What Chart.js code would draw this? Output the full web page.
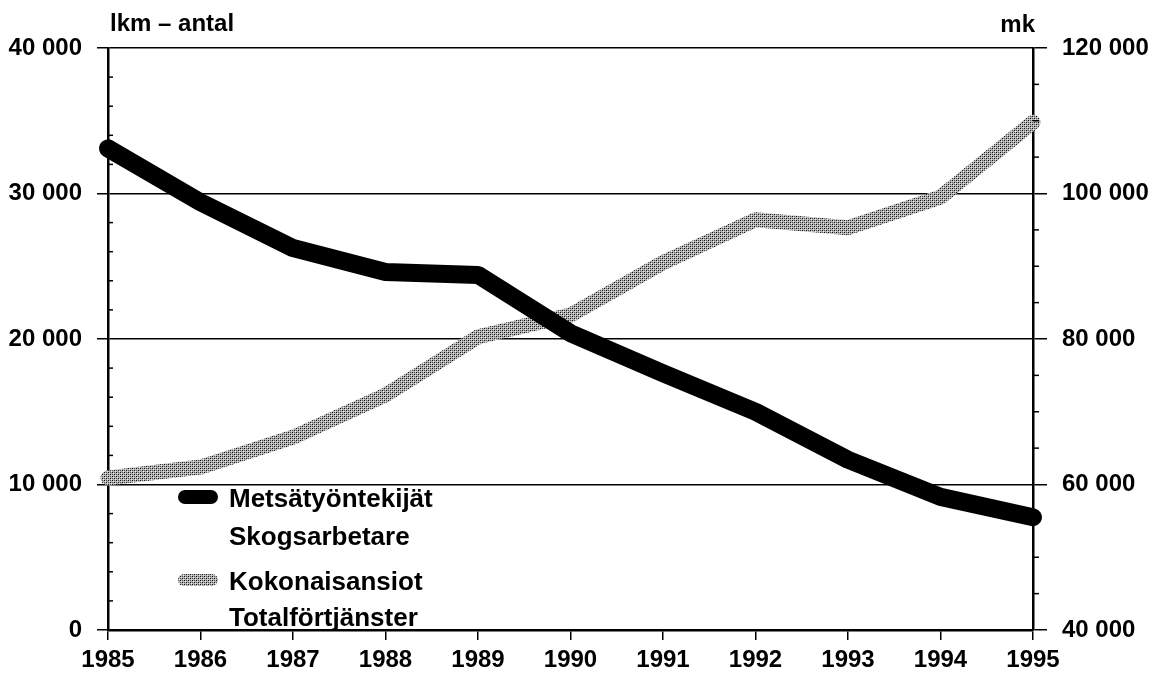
<!DOCTYPE html>
<html>
<head>
<meta charset="utf-8">
<script src="https://cdn.jsdelivr.net/npm/chart.js@4"></script>
<style>
  html, body { margin: 0; padding: 0; background: #fff; }
  #wrap { width: 1152px; height: 685px; }
</style>
</head>
<body>
<div id="wrap"><canvas id="chart" width="1152" height="685"></canvas></div>
<script>
  const years = ['1985', '1986', '1987', '1988', '1989', '1990', '1991', '1992', '1993', '1994', '1995'];
  // lkm – antal (vasen akseli)
  const workers = [33100, 29400, 26250, 24600, 24400, 20400, 17650, 15000, 11700, 9150, 7750];
  // mk (oikea akseli)
  const earnings = [60900, 62400, 66500, 72300, 80300, 83300, 90500, 96400, 95300, 99500, 109800];
  const legendLines = [['Metsätyöntekijät', 'Skogsarbetare'], ['Kokonaisansiot', 'Totalförtjänster']];

  const TICK_FONT = { family: '"Liberation Sans", Arial, sans-serif', size: 24, weight: 'bold' };

  // harmaa pisterasteri kokonaisansioille
  function makeStipple() {
    const c = document.createElement('canvas');
    c.width = 4; c.height = 4;
    const g = c.getContext('2d');
    g.fillStyle = '#b4b4b4';
    g.fillRect(0, 0, 4, 4);
    g.fillStyle = '#111';
    g.fillRect(0, 0, 1, 1); g.fillRect(2, 2, 1, 1);
    g.fillStyle = '#555';
    g.fillRect(2, 0, 1, 1); g.fillRect(0, 2, 1, 1);
    g.fillStyle = '#e8e8e8';
    g.fillRect(1, 1, 1, 1); g.fillRect(3, 3, 1, 1);
    return document.getElementById('chart').getContext('2d').createPattern(c, 'repeat');
  }
  const stipple = makeStipple();

  const extras = {
    id: 'extras',
    afterDraw(chart) {
      const ctx = chart.ctx;
      const area = chart.chartArea;
      const y = chart.scales.y, y2 = chart.scales.y2;
      ctx.save();
      // pienet välimerkit
      ctx.strokeStyle = '#000';
      ctx.lineWidth = 1.5;
      for (let v = 2000; v < 40000; v += 2000) {
        if (v % 10000 === 0) continue;
        const py = y.getPixelForValue(v);
        ctx.beginPath(); ctx.moveTo(area.left, py); ctx.lineTo(area.left + 5, py); ctx.stroke();
      }
      for (let v = 45000; v < 120000; v += 5000) {
        if (v % 20000 === 0) continue;
        const py = y2.getPixelForValue(v);
        ctx.beginPath(); ctx.moveTo(area.right, py); ctx.lineTo(area.right + 6, py); ctx.stroke();
      }
      // akselien otsikot
      ctx.fillStyle = '#000';
      ctx.font = 'bold 24px "Liberation Sans", Arial, sans-serif';
      ctx.textBaseline = 'middle';
      ctx.textAlign = 'left';
      ctx.fillText('lkm – antal', area.left + 2, 24);
      ctx.textAlign = 'right';
      ctx.fillText('mk', area.right + 2, 25);
      // selite
      const lx = area.left + 70;
      const rows = [497, 580];
      ctx.lineCap = 'round';
      ctx.strokeStyle = '#000';
      ctx.lineWidth = 14;
      ctx.beginPath(); ctx.moveTo(lx + 7, rows[0]); ctx.lineTo(lx + 33, rows[0]); ctx.stroke();
      ctx.strokeStyle = stipple;
      ctx.lineWidth = 12;
      ctx.beginPath(); ctx.moveTo(lx + 6, rows[1]); ctx.lineTo(lx + 34, rows[1]); ctx.stroke();
      ctx.fillStyle = '#000';
      ctx.font = 'bold 26px "Liberation Sans", Arial, sans-serif';
      ctx.textAlign = 'left';
      ctx.textBaseline = 'alphabetic';
      ctx.fillText(legendLines[0][0], lx + 51, 507);
      ctx.fillText(legendLines[0][1], lx + 51, 545);
      ctx.fillText(legendLines[1][0], lx + 51, 590);
      ctx.fillText(legendLines[1][1], lx + 51, 626);
      ctx.restore();
    }
  };

  const chart = new Chart(document.getElementById('chart'), {
    type: 'line',
    data: {
      labels: years,
      datasets: [
        {
          label: 'Kokonaisansiot / Totalförtjänster',
          data: earnings,
          yAxisID: 'y2',
          borderColor: stipple,
          borderWidth: 15,
          borderJoinStyle: 'round',
          borderCapStyle: 'round',
          pointRadius: 0,
          tension: 0,
          clip: false,
          order: 2
        },
        {
          label: 'Metsätyöntekijät / Skogsarbetare',
          data: workers,
          yAxisID: 'y',
          borderColor: '#000',
          borderWidth: 18,
          borderJoinStyle: 'round',
          borderCapStyle: 'round',
          pointRadius: 0,
          tension: 0,
          clip: false,
          order: 1
        }
      ]
    },
    options: {
      responsive: false,
      animation: false,
      layout: { padding: { top: 48, left: 0, right: 0, bottom: 0 } },
      plugins: {
        legend: { display: false },
        tooltip: { enabled: false }
      },
      scales: {
        x: {
          type: 'category',
          offset: false,
          grid: { drawOnChartArea: false, color: '#000', lineWidth: 1.5, tickLength: 10 },
          border: { color: '#000', width: 2.5 },
          ticks: { color: '#000', font: TICK_FONT, padding: 6, maxRotation: 0, autoSkip: false },
          afterFit(s) { s.height = 55; }
        },
        y: {
          position: 'left',
          min: 0,
          max: 40000,
          grid: { color: '#000', lineWidth: 1.5, tickLength: 11 },
          border: { color: '#000', width: 2.5 },
          ticks: {
            stepSize: 10000,
            color: '#000',
            font: TICK_FONT,
            padding: 15,
            callback: v => v.toLocaleString('fi-FI').replace(/\s/g, ' ')
          },
          afterFit(s) { s.width = 108; }
        },
        y2: {
          position: 'right',
          min: 40000,
          max: 120000,
          grid: { drawOnChartArea: false, color: '#000', lineWidth: 1.5, tickLength: 14 },
          border: { color: '#000', width: 2.5 },
          ticks: {
            stepSize: 20000,
            color: '#000',
            font: TICK_FONT,
            padding: 15,
            callback: v => v.toLocaleString('fi-FI').replace(/\s/g, ' ')
          },
          afterFit(s) { s.width = 119; }
        }
      }
    },
    plugins: [extras]
  });
</script>
</body>
</html>
